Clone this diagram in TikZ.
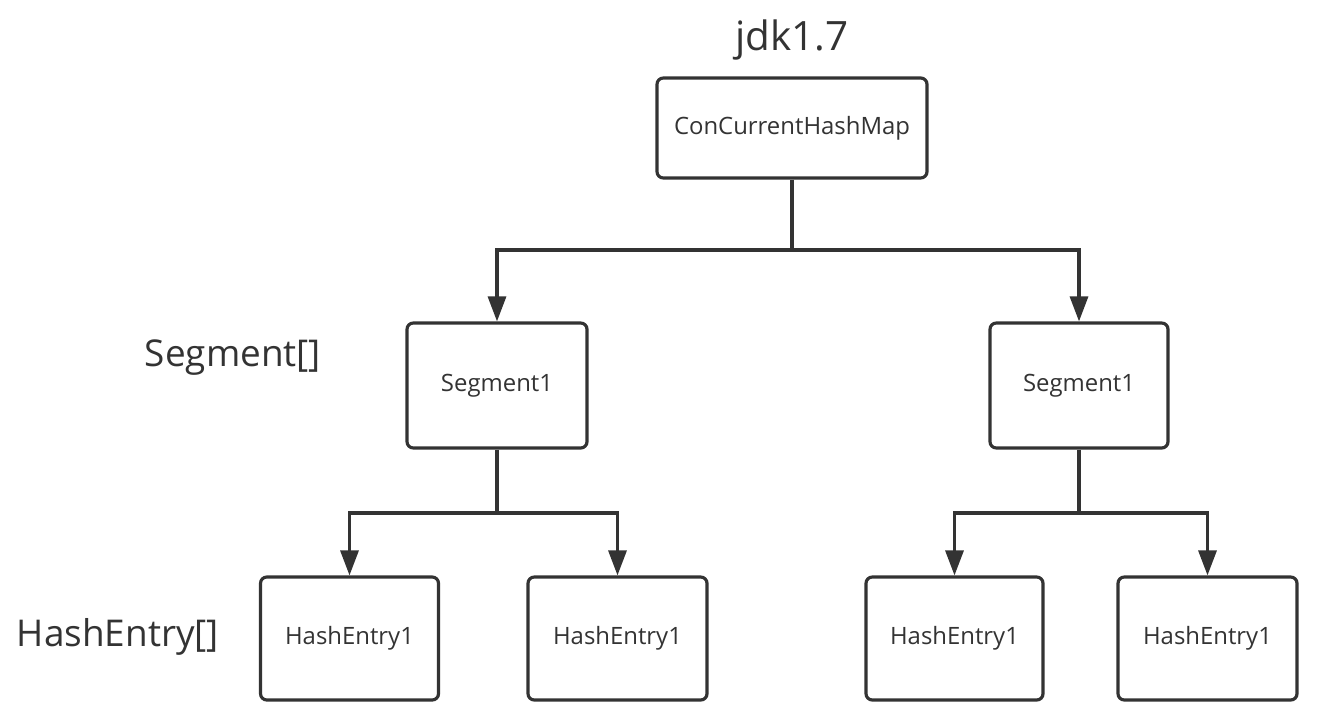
\documentclass[tikz,border=0pt]{standalone}
\usepackage{fontspec}
\setmainfont{Open Sans}
\usepackage{xcolor}
\usetikzlibrary{arrows.meta}
\definecolor{ink}{HTML}{333333}

\tikzset{
  box/.style={draw=ink, line width=0.9pt, rounded corners=1.8pt, text=ink,
    font=\fontsize{6.8}{8}\selectfont, inner sep=0pt},
  link/.style={draw=ink, line width=0.9pt},
  arrow/.style={link, -{Triangle[length=2.5mm,width=1.8mm]}},
  level/.style={text=ink, font=\fontsize{10.5}{12}\selectfont, inner sep=0pt}
}

\begin{document}
\begin{tikzpicture}
\useasboundingbox (0,0) rectangle (13.37,7.27);
%\draw[color=black!20,step=1] (0,0) grid (13.37,7.27);
\node[level, font=\fontsize{11.5}{13}\selectfont] (title) at (7.92,6.87) {jdk1.7};
\node[box, minimum width=2.70cm, minimum height=1.00cm] (map) at (7.92,5.99) {ConCurrentHashMap};
\node[box, minimum width=1.80cm, minimum height=1.25cm] (segL) at (4.97,3.415) {Segment1};
\node[box, minimum width=1.78cm, minimum height=1.25cm] (segR) at (10.79,3.415) {Segment1};
\node[box, minimum width=1.78cm, minimum height=1.23cm] (hashLL) at (3.495,0.885) {HashEntry1};
\node[box, minimum width=1.79cm, minimum height=1.23cm] (hashLR) at (6.175,0.885) {HashEntry1};
\node[box, minimum width=1.77cm, minimum height=1.23cm] (hashRL) at (9.545,0.885) {HashEntry1};
\node[box, minimum width=1.79cm, minimum height=1.23cm] (hashRR) at (12.075,0.885) {HashEntry1};
\node[level] (segLabel) at (2.33,3.69) {Segment[]};
\node[level] (hashLabel) at (1.18,0.90) {HashEntry[]};
% branch points
\coordinate (mapFork) at (7.92,4.77);
\coordinate (segLFork) at (4.97,2.14);
\coordinate (segRFork) at (10.79,2.14);
\draw[link] (map.south) -- (mapFork);
\draw[arrow] (mapFork) -| (segL.north);
\draw[arrow] (mapFork) -| (segR.north);
\draw[link] (segL.south) -- (segLFork);
\draw[arrow] (segLFork) -| (hashLL.north);
\draw[arrow] (segLFork) -| (hashLR.north);
\draw[link] (segR.south) -- (segRFork);
\draw[arrow] (segRFork) -| (hashRL.north);
\draw[arrow] (segRFork) -| (hashRR.north);
\end{tikzpicture}
\end{document}
